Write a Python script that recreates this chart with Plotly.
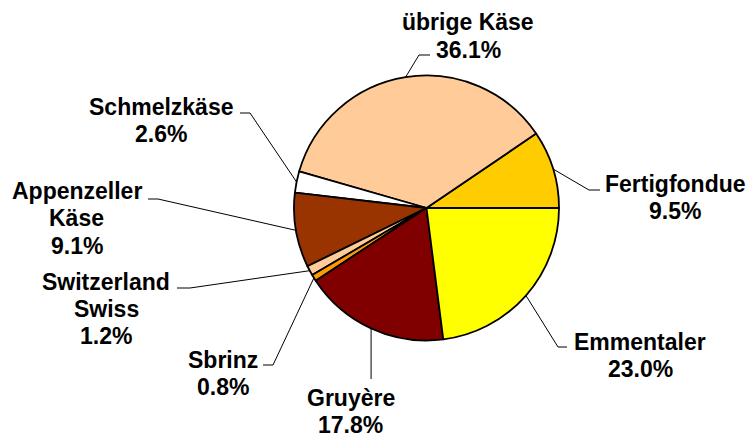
import math
import plotly.graph_objects as go

# ---- data ----
labels = ["Fertigfondue", "übrige Käse", "Schmelzkäse", "Appenzeller Käse",
          "Switzerland Swiss", "Sbrinz", "Gruyère", "Emmentaler"]
label_lines = [["Fertigfondue"], ["übrige Käse"], ["Schmelzkäse"], ["Appenzeller", "Käse"],
               ["Switzerland", "Swiss"], ["Sbrinz"], ["Gruyère"], ["Emmentaler"]]
values = [9.5, 36.1, 2.6, 9.1, 1.2, 0.8, 17.8, 23.0]
colors = ["#FFCC00", "#FFCC99", "#FFFFFF", "#993300", "#FFCC99", "#FF9900", "#800000", "#FFFF00"]

# ---- layout (page pixels) ----
W, H = 750, 438
OFF = 0  # page body margin removed via post_script
CX, CY, R = 426.5, 208.0, 132.5
FONT = dict(family="Liberation Sans, Arial, sans-serif", size=23, color="black", weight="bold")
LINE_STEP = 27.0
# per-label: text block centre x, first line cap-middle y, leader elbow, leader end
label_pos = [
    (675, 182.5, (589, 190), (600, 190)),
    (468, 21, (419, 55), (430, 55)),
    (161, 105.5, (250, 113), (240, 113)),
    (76.5, 190, (158, 199), (148, 199)),
    (106.5, 280, (190, 288), (177, 288)),
    (222.5, 358.5, (273, 365), (263, 365)),
    (350.5, 396.5, None, None),
    (640, 340.5, (558, 347), (567, 347)),
]
gruyere_line_end_y = 379


def px(x):
    return (x - OFF) / W


def py(y):
    return 1 - (y - OFF) / H


total = sum(values)
start_rot = 90 - values[0] / total * 360

fig = go.Figure(go.Pie(
    labels=labels, values=values, sort=False, direction="counterclockwise",
    rotation=start_rot, marker=dict(colors=colors, line=dict(color="black", width=1.8)),
    textinfo="none", hoverinfo="label+percent", showlegend=False,
    domain=dict(x=[px(CX - R), px(CX + R)], y=[py(CY + R), py(CY - R)]),
))

annotations = []
shapes = []
cum = 0.0
for i, v in enumerate(values):
    mid = (cum + v / 2) / total * 2 * math.pi
    cum += v
    sx = CX + R * math.cos(mid)
    sy = CY - R * math.sin(mid)
    tx, ty, elbow, end = label_pos[i]
    if elbow is None:
        elbow = (sx, gruyere_line_end_y)
        end = elbow
    path = f"M {px(sx)},{py(sy)} L {px(elbow[0])},{py(elbow[1])} L {px(end[0])},{py(end[1])}"
    shapes.append(dict(type="path", path=path, xref="paper", yref="paper",
                       line=dict(color="black", width=1)))
    lines = label_lines[i] + [f"{v:.1f}%"]
    for j, t in enumerate(lines):
        annotations.append(dict(
            text=t, x=px(tx), y=py(ty + j * LINE_STEP + 1.5), xref="paper", yref="paper",
            xanchor="center", yanchor="middle", showarrow=False,
            font=FONT))

fig.update_layout(
    width=W, height=H, margin=dict(l=0, r=0, t=0, b=0),
    paper_bgcolor="white", plot_bgcolor="white",
    annotations=annotations, shapes=shapes,
)
fig.write_html("out.html", config={"displayModeBar": False},
               post_script="document.body.style.margin='0';document.body.style.overflow='hidden';")
